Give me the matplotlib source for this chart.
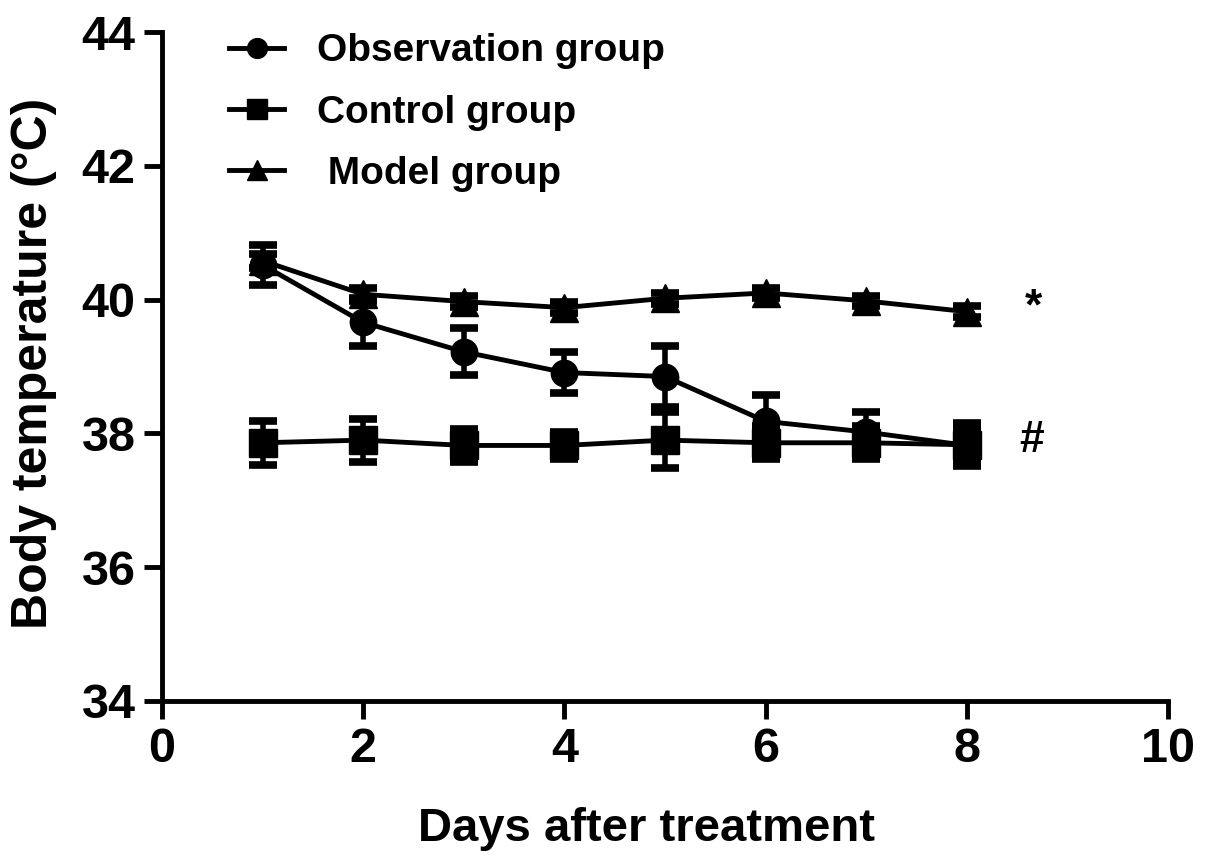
import numpy as np
import matplotlib.pyplot as plt

plt.rcParams['font.family'] = ['Liberation Sans', 'DejaVu Sans']
plt.rcParams['font.weight'] = 'bold'

days = [1, 2, 3, 4, 5, 6, 7, 8]
obs_mean = [40.52, 39.66, 39.22, 38.91, 38.85, 38.18, 38.02, 37.82]
obs_err = [0.30, 0.36, 0.35, 0.30, 0.45, 0.40, 0.30, 0.25]
ctrl_mean = [37.86, 37.90, 37.82, 37.82, 37.90, 37.86, 37.86, 37.83]
ctrl_err = [0.33, 0.32, 0.25, 0.20, 0.42, 0.25, 0.25, 0.32]
model_mean = [40.58, 40.08, 39.97, 39.88, 40.02, 40.10, 39.98, 39.82]
model_err = [0.10, 0.10, 0.08, 0.08, 0.08, 0.08, 0.08, 0.08]

labels = ['Observation group', 'Control group', ' Model group']

fig = plt.figure(figsize=(12.05, 8.68), dpi=100)
ax = fig.add_axes([0.1344, 0.1924, 0.8349, 0.7707])

kw = dict(color='k', lw=3.5, elinewidth=4, capsize=10, capthick=5.5, clip_on=False)
e1 = ax.errorbar(days, obs_mean, yerr=obs_err, marker='o', ms=19, zorder=3, **kw)
e2 = ax.errorbar(days, ctrl_mean, yerr=ctrl_err, marker='s', ms=19.5, zorder=3, **kw)
e3 = ax.errorbar(days, model_mean, yerr=model_err, marker='^', ms=20, zorder=3, **kw)

ax.text(8.66, 39.88, '*', fontsize=32, ha='center', va='center')
ax.text(8.64, 37.9, '#', fontsize=32, ha='center', va='center')

ax.set_xlim(0, 10)
ax.set_ylim(34, 44)
ax.set_xticks(np.arange(0, 11, 2))
ax.set_yticks(np.arange(34, 45, 2))
ax.spines['top'].set_visible(False)
ax.spines['right'].set_visible(False)
for s in ['left', 'bottom']:
    ax.spines[s].set_linewidth(3.5)
ax.tick_params(width=3.5, length=13, labelsize=35, pad=6)

ax.set_xlabel('Days after treatment', fontsize=34, fontweight='bold')
ax.set_ylabel('Body temperature (°C)', fontsize=36, fontweight='bold')
ax.xaxis.set_label_coords(0.482, -0.158)
ax.yaxis.set_label_coords(-0.104, 0.505)

ax.legend([e1[0], e2[0], e3[0]], labels, loc='upper left', bbox_to_anchor=(0.067, 0.998),
          frameon=False, fontsize=28, handlelength=1.4, handletextpad=0.85,
          labelspacing=0.65, borderpad=0, borderaxespad=0, markerscale=0.75)

fig.savefig('out.png', dpi=100)
